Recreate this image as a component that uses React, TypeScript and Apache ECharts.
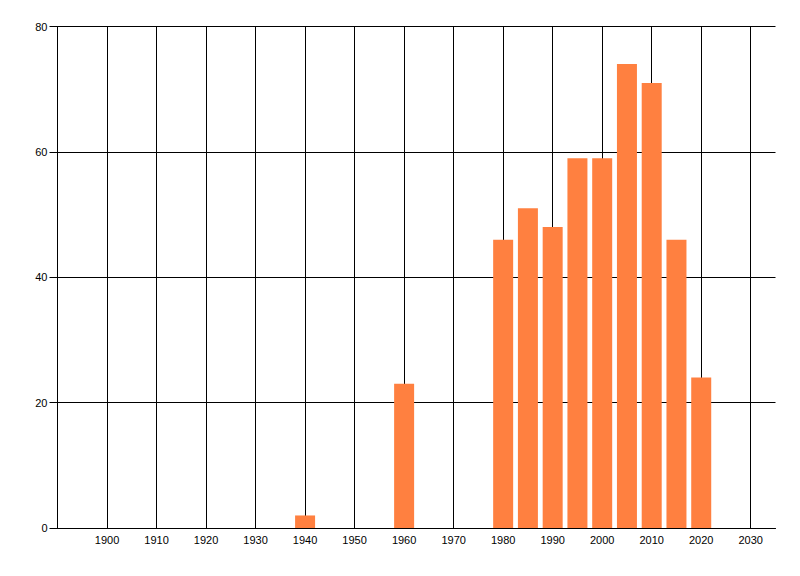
import React, { useEffect, useRef } from "react";
import * as echarts from "echarts";

const years = [1940, 1960, 1980, 1985, 1990, 1995, 2000, 2005, 2010, 2015, 2020];
const counts = [2, 23, 46, 51, 48, 59, 59, 74, 71, 46, 24];
const xMin = 1890;
const xMax = 2035;
const xStep = 10;
const yTicks = [0, 20, 40, 60, 80];

export default function App() {
  const ref = useRef<HTMLDivElement>(null);
  useEffect(() => {
    if (!ref.current) return;
    const chart = echarts.init(ref.current, null, { renderer: "svg" });
    const font = { fontFamily: "'Liberation Sans', Arial, sans-serif", fontSize: 11, color: "#000" };
    chart.setOption({
      animation: false,
      backgroundColor: "#fff",
      grid: { left: 57.5, top: 26.5, right: 24.5, bottom: 48, containLabel: false },
      xAxis: {
        type: "value",
        min: xMin,
        max: xMax,
        interval: xStep,
        axisLine: { show: true, onZero: false, lineStyle: { color: "#000", width: 1 } },
        axisTick: { show: false },
        axisLabel: {
          ...font,
          margin: 6,
          formatter: (v: number) => (v % xStep === 0 && v > xMin ? String(v) : ""),
        },
        splitLine: { show: true, showMinLine: false, showMaxLine: false, lineStyle: { color: "#000", width: 1 } },
      },
      yAxis: {
        type: "value",
        min: yTicks[0],
        max: yTicks[yTicks.length - 1],
        interval: yTicks[1] - yTicks[0],
        axisLine: { show: true, lineStyle: { color: "#000", width: 1 } },
        axisTick: { show: true, length: 8, lineStyle: { color: "#000", width: 1 } },
        axisLabel: { ...font, margin: 10 },
        splitLine: { show: true, lineStyle: { color: "#000", width: 1 } },
      },
      series: [
        {
          type: "bar",
          data: years.map((y, i) => [y, counts[i]]),
          barWidth: 20,
          itemStyle: { color: "#FF8040" },
          z: 3,
        },
      ],
    });
    return () => chart.dispose();
  }, []);
  return (
    <div
      ref={ref}
      style={{ position: "fixed", left: 0, top: 0, width: 800, height: 576, background: "#fff" }}
    />
  );
}
